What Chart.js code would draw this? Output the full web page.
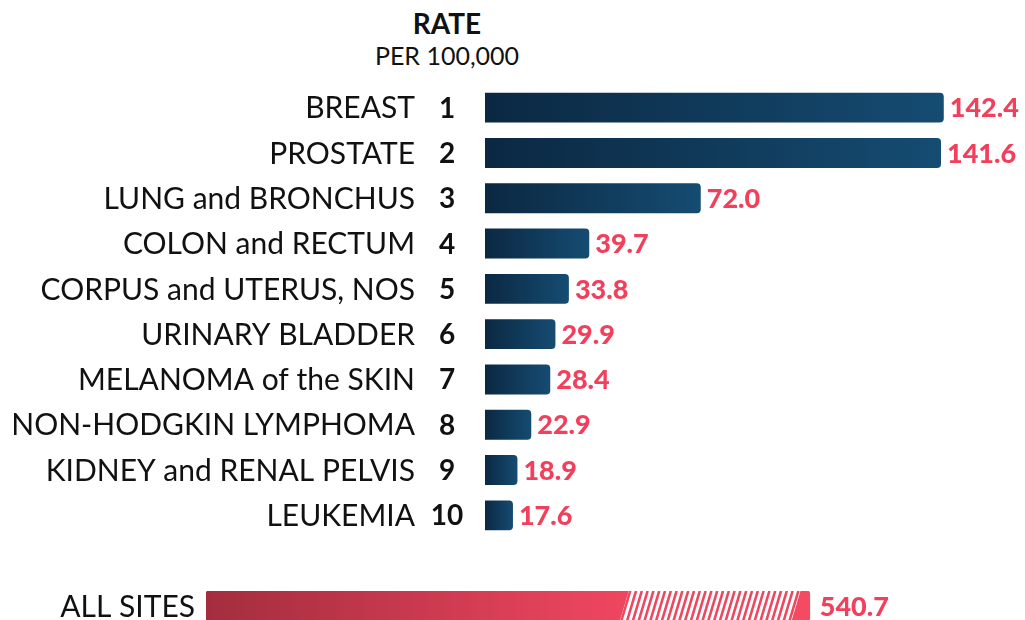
<!DOCTYPE html>
<html>
<head>
<meta charset="utf-8">
<script src="https://cdn.jsdelivr.net/npm/chart.js@4.4.1/dist/chart.umd.min.js"></script>
<style>
  body { margin: 0; width: 1025px; height: 620px; overflow: hidden; background: #fff; position: relative; font-family: Lato, "Open Sans", sans-serif; }
  #title { position: absolute; left: 347px; width: 200px; top: 8px; text-align: center; color: #111; }
  #title .t1 { font-weight: bold; font-size: 28px; line-height: 31px; }
  #title .t2 { font-size: 25px; line-height: 32px; }
  #main { position: absolute; left: 0; top: 0; }
  #total { position: absolute; left: 0; top: 566px; }
</style>
</head>
<body>
<div id="title"><div class="t1">RATE</div><div class="t2">PER 100,000</div></div>
<canvas id="main" width="1025" height="620"></canvas>
<canvas id="total" width="1025" height="80"></canvas>
<script>
const sites = ["BREAST", "PROSTATE", "LUNG and BRONCHUS", "COLON and RECTUM", "CORPUS and UTERUS, NOS",
  "URINARY BLADDER", "MELANOMA of the SKIN", "NON-HODGKIN LYMPHOMA", "KIDNEY and RENAL PELVIS", "LEUKEMIA"];
const ranks = [1, 2, 3, 4, 5, 6, 7, 8, 9, 10];
const rates = [142.4, 141.6, 72.0, 39.7, 33.8, 29.9, 28.4, 22.9, 18.9, 17.6];

const totalLabel = ["ALL SITES"];
const totalRate = [540.7];

const pink = "#f2405c";

// gradient from the start to the end of every single bar
function barGradient(ctx, from, to) {
  const chart = ctx.chart;
  const x = chart.scales.x;
  if (!chart.chartArea || !x) return from;
  const v = ctx.raw;
  const x0 = x.getPixelForValue(x.min);
  const x1 = x.getPixelForValue(v);
  const g = chart.ctx.createLinearGradient(x0, 0, x1, 0);
  g.addColorStop(0, from);
  g.addColorStop(1, to);
  return g;
}

const labelPlugin = {
  id: "labels",
  afterDatasetsDraw(chart) {
    const c = chart.ctx;
    const meta = chart.getDatasetMeta(0);
    c.save();
    c.textBaseline = "middle";
    meta.data.forEach((bar, i) => {
      const y = bar.y + 1;
      c.fillStyle = "#111";
      c.font = "30px Lato";
      c.textAlign = "right";
      c.fillText(sites[i], 415, y);
      c.font = "bold 28px Lato";
      c.textAlign = "center";
      c.fillText(ranks[i], 447, y);
      c.fillStyle = pink;
      c.font = "900 27px Lato";
      c.textAlign = "left";
      c.fillText(rates[i].toFixed(1), bar.x + 6, y);
    });
    c.restore();
  }
};

new Chart(document.getElementById("main"), {
  type: "bar",
  data: {
    labels: sites,
    datasets: [{
      data: rates,
      backgroundColor: ctx => barGradient(ctx, "#0b2842", "#154c72"),
      borderRadius: 4,
      borderSkipped: false,
      barPercentage: 0.66,
      categoryPercentage: 1
    }]
  },
  options: {
    indexAxis: "y",
    responsive: false,
    animation: false,
    layout: { padding: { left: 485, right: 55, top: 85, bottom: 82 } },
    scales: {
      x: { display: false, min: 9.5, max: 150 },
      y: { display: false }
    },
    plugins: { legend: { display: false }, tooltip: { enabled: false } }
  },
  plugins: [labelPlugin]
});

// hatched scale break on the ALL SITES bar, plus its labels
const breakPlugin = {
  id: "break",
  afterDatasetsDraw(chart) {
    const c = chart.ctx;
    const bar = chart.getDatasetMeta(0).data[0];
    const top = bar.y - bar.height / 2, bottom = bar.y + bar.height / 2;
    const len = bar.x - bar.base;
    const a = bar.base + 0.692 * len, b = bar.base + 0.978 * len;
    c.save();
    c.beginPath();
    c.moveTo(a - 4, bottom);
    c.lineTo(a + 5, top);
    c.lineTo(b + 4, top);
    c.lineTo(b - 5, bottom);
    c.closePath();
    c.clip();
    c.fillStyle = "#fff";
    c.fillRect(a - 10, top, b - a + 20, bottom - top);
    c.strokeStyle = "#f0465e";
    c.lineWidth = 2.6;
    for (let x = a - 20; x < b + 20; x += 5.8) {
      c.beginPath();
      c.moveTo(x, bottom);
      c.lineTo(x + 9, top);
      c.stroke();
    }
    c.restore();

    c.save();
    c.textBaseline = "middle";
    c.fillStyle = "#111";
    c.font = "30px Lato";
    c.textAlign = "right";
    c.fillText(totalLabel[0], 195, bar.y + 1);
    c.fillStyle = pink;
    c.font = "900 27px Lato";
    c.textAlign = "left";
    c.fillText(totalRate[0].toFixed(1), bar.x + 10, bar.y + 1);
    c.restore();
  }
};

new Chart(document.getElementById("total"), {
  type: "bar",
  data: {
    labels: totalLabel,
    datasets: [{
      data: totalRate,
      backgroundColor: ctx => {
        const chart = ctx.chart;
        const x = chart.scales.x;
        if (!chart.chartArea || !x) return "#d43a50";
        const x0 = x.getPixelForValue(0), x1 = x.getPixelForValue(ctx.raw);
        const g = chart.ctx.createLinearGradient(x0, 0, x1, 0);
        g.addColorStop(0, "#a32d3e");
        g.addColorStop(0.69, "#ef4660");
        g.addColorStop(1, "#f44a62");
        return g;
      },
      borderRadius: 3,
      borderSkipped: false,
      barPercentage: 1,
      categoryPercentage: 1
    }]
  },
  options: {
    indexAxis: "y",
    responsive: false,
    animation: false,
    layout: { padding: { left: 206, right: 149, top: 25, bottom: 25 } },
    scales: {
      x: { display: false, min: 0, max: 600 },
      y: { display: false }
    },
    plugins: { legend: { display: false }, tooltip: { enabled: false } }
  },
  plugins: [breakPlugin]
});
</script>
</body>
</html>
